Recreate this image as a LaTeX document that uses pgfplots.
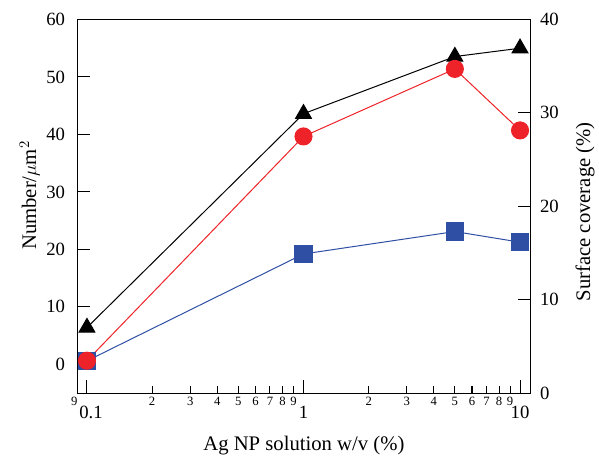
\documentclass[border=0pt]{standalone}
\usepackage{pgfplots}
\pgfplotsset{compat=1.18}
\usepackage{fontspec}
\setmainfont{Liberation Serif}
\definecolor{cred}{HTML}{EE2229}
\definecolor{cblue}{HTML}{2E4FA3}
\begin{document}
\begin{tikzpicture}
\begin{axis}[name=a,
  scale only axis, width=340pt, height=280pt,
  xmode=log, xmin=0.09, xmax=11.2,
  axis line style={line width=0.8pt},
  tick align=inside,
  tick style={line width=0.8pt, black},
  major tick length=9.75pt,
  /pgf/number format/assume math mode=true,
  tick label style={font=\fontsize{14}{14}\selectfont},
  label style={font=\fontsize{15.5}{16}\selectfont},
  ymin=-5, ymax=60,
  xtick pos=bottom, ytick pos=left,
  xtick={0.1,1,10}, xticklabels={\makebox[0pt]{\hspace{6pt}0.1},1,10},
  minor x tick style={draw=none},
  ytick={0,10,20,30,40,50,60},
  xticklabel style={yshift=-6pt},
  yticklabel style={xshift=-5.5pt},
  extra x ticks={0.09,0.2,0.3,0.4,0.5,0.6,0.7,0.8,0.9,2,3,4,5,6,7,8,9},
  extra x tick labels={\makebox[0pt]{9\hspace{4pt}},2,3,4,5,6,7,8,9,2,3,4,5,6,7,8,9},
  extra x tick style={major tick length=5.25pt,
    tick label style={font=\fontsize{9.5}{9.5}\selectfont, yshift=6.5pt}},
  xlabel={Ag NP solution w/v (\%)},
  xlabel style={at={(axis description cs:0.5,0)}, anchor=base, yshift=-43.3pt},
  ylabel={Number/$\mu$m$^2$},
  ylabel style={at={(axis description cs:-0.0904,0.529)}, anchor=base, rotate=0},
]
\addplot[cblue, line width=0.75pt, mark=square*, mark size=6.5pt,
  mark options={fill=cblue, draw=none}] coordinates {
  (0.1,0.6) (1,19.2) (5,23.1) (10,21.25)};
\addplot[black, line width=0.75pt, mark=triangle*, mark size=6.8pt,
  mark options={fill=black, draw=none}] coordinates {
  (0.1,6.4) (1,43.6) (5,53.55) (10,55.0)};
\addplot[cred, line width=0.75pt, mark=*, mark size=6.4pt,
  mark options={fill=cred, draw=none}] coordinates {
  (0.1,0.63) (1,39.65) (5,51.4) (10,40.7)};
\end{axis}
\begin{axis}[
  scale only axis, width=340pt, height=280pt,
  xmode=log, xmin=0.09, xmax=11.2,
  axis line style={line width=0.8pt},
  tick align=inside,
  tick style={line width=0.8pt, black},
  major tick length=9.75pt,
  /pgf/number format/assume math mode=true,
  tick label style={font=\fontsize{14}{14}\selectfont},
  label style={font=\fontsize{15.5}{16}\selectfont},
  ymin=0, ymax=40,
  axis x line=none, axis y line*=right, ytick pos=right,
  ytick={0,10,20,30,40},
  yticklabel style={xshift=3.5pt},
  ylabel={Surface coverage (\%)},
  ylabel style={at={(axis description cs:1.1309,0.485)}, anchor=base, rotate=0},
]
\addplot[draw=none] coordinates {(1,1)};
\end{axis}
\pgfresetboundingbox
\path[use as bounding box] ([xshift=-57.75pt,yshift=-49.5pt]a.south west) rectangle ([xshift=51.2pt,yshift=14.6pt]a.north east);
\end{tikzpicture}
\end{document}
